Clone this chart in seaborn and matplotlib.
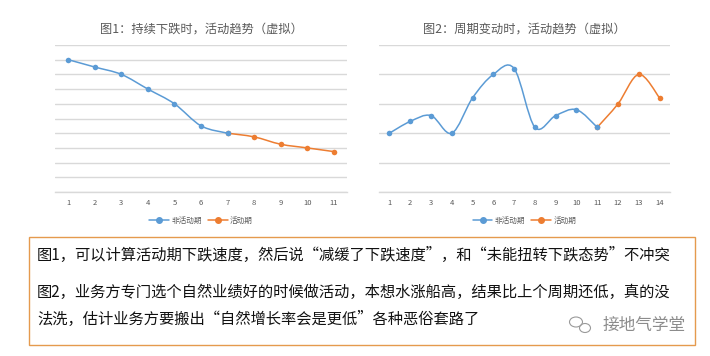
import numpy as np
import pandas as pd
import seaborn as sns
import matplotlib
matplotlib.use("Agg")
import matplotlib.pyplot as plt
from matplotlib.path import Path
from matplotlib.patches import PathPatch, Rectangle, Ellipse
from matplotlib.lines import Line2D

# ---------------- data ----------------
title1 = "图1：持续下跌时，活动趋势（虚拟）"
title2 = "图2：周期变动时，活动趋势（虚拟）"
legend_labels = ["非活动期", "活动期"]

c1_x_inactive = [1, 2, 3, 4, 5, 6, 7]
c1_y_inactive = [9.0, 8.5, 8.0, 7.0, 6.0, 4.5, 4.0]
c1_x_active = [7, 8, 9, 10, 11]
c1_y_active = [4.0, 3.75, 3.25, 3.0, 2.75]
c1_ticks = list(range(1, 12))

c2_x_inactive = [1, 2, 3, 4, 5, 6, 7, 8, 9, 10, 11]
c2_y_inactive = [2.0, 2.4, 2.6, 2.0, 3.2, 4.0, 4.2, 2.2, 2.6, 2.8, 2.2]
c2_x_active = [11, 12, 13, 14]
c2_y_active = [2.2, 3.0, 4.0, 3.2]
c2_ticks = list(range(1, 15))

note_lines = [
    "图1，可以计算活动期下跌速度，然后说“减缓了下跌速度”，和“未能扭转下跌态势”不冲突",
    "图2，业务方专门选个自然业绩好的时候做活动，本想水涨船高，结果比上个周期还低，真的没",
    "法洗，估计业务方要搬出“自然增长率会是更低”各种恶俗套路了",
]
watermark = "接地气学堂"

BLUE = "#5B9BD5"
ORANGE = "#ED7D31"
GRID = "#D9D9D9"
TXT = "#595959"

sns.set_theme(style="white")
plt.rcParams["font.family"] = ["Noto Sans CJK SC", "DejaVu Sans"]

W, H = 710, 356
fig = plt.figure(figsize=(W / 100, H / 100), dpi=100)


def smooth_path(xs, ys):
    """Excel-like smoothed line as cubic Bezier segments through the data points."""
    P = np.column_stack([xs, ys]).astype(float)
    n = len(P)
    verts = [P[0]]
    codes = [Path.MOVETO]
    for i in range(n - 1):
        p0 = P[i - 1] if i > 0 else P[i]
        p1, p2 = P[i], P[i + 1]
        p3 = P[i + 2] if i + 2 < n else P[i + 1]
        c1 = p1 + (p2 - p0) / 6.0
        c2 = p2 - (p3 - p1) / 6.0
        verts += [c1, c2, p2]
        codes += [Path.CURVE4] * 3
    return Path(verts, codes)


def draw_chart(rect, title, xin, yin, xact, yact, ticks, ymax):
    l, t, r, b = rect
    ax = fig.add_axes([l / W, 1 - b / H, (r - l) / W, (b - t) / H])
    for xs, ys, col, z in [(xact, yact, ORANGE, 3), (xin, yin, BLUE, 4)]:
        ax.add_patch(PathPatch(smooth_path(xs, ys), facecolor="none",
                               edgecolor=col, lw=1.1, zorder=z))
        df = pd.DataFrame({"x": xs, "y": ys})
        sns.scatterplot(data=df, x="x", y="y", ax=ax, color=col, s=16,
                        edgecolor=col, linewidth=0, zorder=z + 0.5, legend=False)
    ax.set_xlim(0.5, len(ticks) + 0.5)
    ax.set_ylim(0, ymax)
    ax.set_yticks(np.arange(0, ymax + 0.1, 1))
    ax.set_yticklabels([])
    ax.set_xticks(ticks)
    ax.set_xticklabels([str(v) for v in ticks], fontsize=5.5, color=TXT)
    ax.tick_params(axis="x", length=0, pad=5)
    ax.tick_params(axis="y", length=0)
    ax.grid(axis="y", color=GRID, lw=1)
    ax.set_axisbelow(True)
    for s in ["top", "right", "left"]:
        ax.spines[s].set_visible(False)
    ax.spines["bottom"].set_color(GRID)
    ax.spines["bottom"].set_linewidth(1)
    ax.set_xlabel("")
    ax.set_ylabel("")
    ax.set_title(title, fontsize=8.8, color=TXT, pad=9)
    handles = [Line2D([0], [0], color=BLUE, lw=1.1, marker="o", markersize=4),
               Line2D([0], [0], color=ORANGE, lw=1.1, marker="o", markersize=4)]
    ax.legend(handles, legend_labels, loc="upper center", bbox_to_anchor=(0.5, -0.12),
              ncol=2, frameon=False, fontsize=5.5, labelcolor=TXT,
              handlelength=2.6, columnspacing=0.8, handletextpad=0.3)
    return ax


draw_chart((55, 45, 347, 192), title1, c1_x_inactive, c1_y_inactive,
           c1_x_active, c1_y_active, c1_ticks, 10)
draw_chart((379, 45, 670, 192), title2, c2_x_inactive, c2_y_inactive,
           c2_x_active, c2_y_active, c2_ticks, 5)

# note box
fig.patches.append(Rectangle((29 / W, 1 - 345 / H), 666 / W, 108 / H,
                             transform=fig.transFigure, fill=False,
                             edgecolor="#E59A4E", lw=1.0))
for line, yc in zip(note_lines, [255, 292, 319]):
    fig.text(37 / W, 1 - yc / H, line, fontsize=11.0, color="#111111",
             ha="left", va="center")

# watermark
fig.text(603 / W, 1 - 325 / H, watermark, fontsize=12, color="#8C8C8C",
         ha="left", va="center")
for cx, cy, w, h in [(576, 322, 13, 10), (585, 328, 11, 9)]:
    fig.patches.append(Ellipse((cx / W, 1 - cy / H), w / W, h / H,
                               transform=fig.transFigure, fill=False,
                               edgecolor="#9A9A9A", lw=0.8))

fig.savefig("out.png", dpi=100)
